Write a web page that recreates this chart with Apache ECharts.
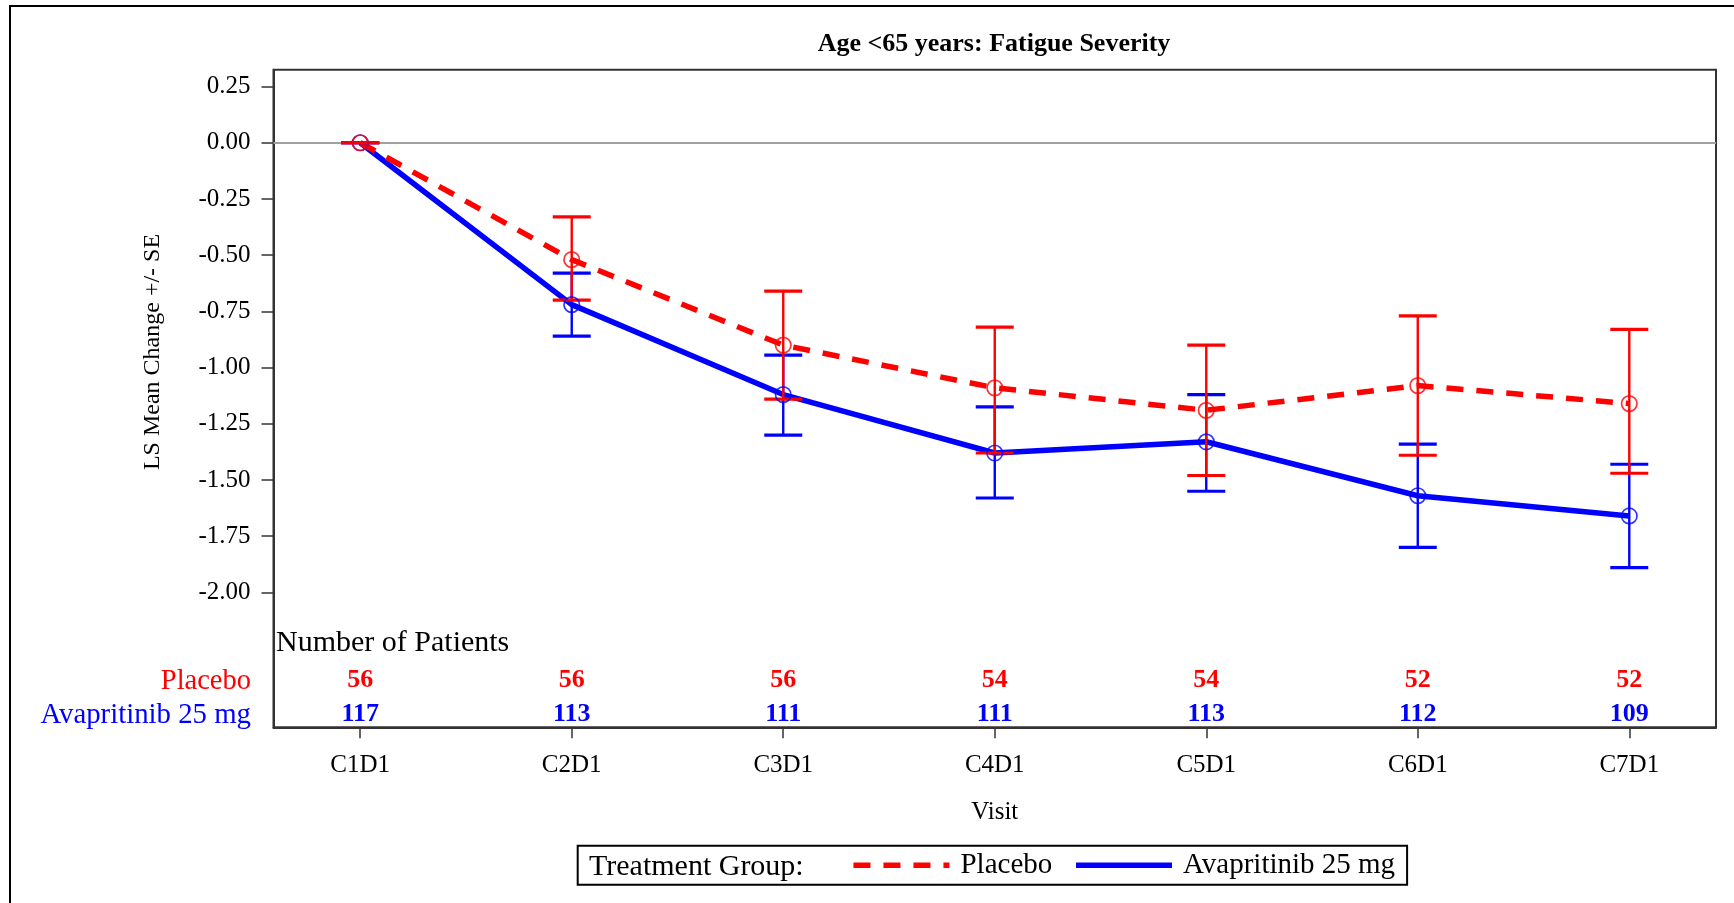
<!DOCTYPE html>
<html>
<head>
<meta charset="utf-8">
<script src="https://cdn.jsdelivr.net/npm/echarts@6/dist/echarts.min.js"></script>
<style>
html,body{margin:0;padding:0;background:#fff;}
#c{width:1734px;height:903px;}
</style>
</head>
<body>
<div id="c"></div>
<script>
// ---------------- data ----------------
const visits = ['C1D1', 'C2D1', 'C3D1', 'C4D1', 'C5D1', 'C6D1', 'C7D1'];
const yTickValues = [-2, -1.75, -1.5, -1.25, -1, -0.75, -0.5, -0.25, 0, 0.25];

const placeboMean  = [0, -0.52, -0.90, -1.09, -1.19, -1.08, -1.16];
const placeboUpper = [0, -0.33, -0.66, -0.82, -0.90, -0.77, -0.83];
const placeboLower = [0, -0.70, -1.14, -1.38, -1.48, -1.39, -1.47];

const avaMean  = [0, -0.72, -1.12, -1.38, -1.33, -1.57, -1.66];
const avaUpper = [0, -0.58, -0.945, -1.175, -1.12, -1.34, -1.43];
const avaLower = [0, -0.86, -1.30, -1.58, -1.55, -1.80, -1.89];

const placeboN = [56, 56, 56, 54, 54, 52, 52];
const avaN     = [117, 113, 111, 111, 113, 112, 109];

// ---------------- layout / style ----------------
const FONT = "'Liberation Serif', 'Times New Roman', serif";
const RED = '#ff0000';
const BLUE = '#0000ff';
const ROW_PLACEBO = -2.392;   // y level of the placebo count row (axis units)
const ROW_AVA = -2.541;       // y level of the avapritinib count row

const chart = echarts.init(document.getElementById('c'), null, {renderer: 'canvas'});

function errBars(name, color, lower, upper, z) {
  return {
    type: 'custom',
    name: name,
    z: z,
    silent: true,
    data: visits.map((v, i) => [i, lower[i], upper[i]]),
    encode: {x: 0, y: [1, 2]},
    renderItem: function (params, api) {
      const x = api.value(0);
      const lo = api.coord([x, api.value(1)]);
      const hi = api.coord([x, api.value(2)]);
      const hw = 19;
      return {
        type: 'group',
        children: [
          {type: 'line', shape: {x1: lo[0], y1: lo[1], x2: hi[0], y2: hi[1]}, style: {stroke: color, lineWidth: 2.4}},
          {type: 'line', shape: {x1: lo[0] - hw, y1: lo[1], x2: lo[0] + hw, y2: lo[1]}, style: {stroke: color, lineWidth: 3.2}},
          {type: 'line', shape: {x1: hi[0] - hw, y1: hi[1], x2: hi[0] + hw, y2: hi[1]}, style: {stroke: color, lineWidth: 3.2}}
        ]
      };
    }
  };
}

function countRow(name, color, rowY, counts) {
  return {
    type: 'custom',
    name: name,
    silent: true,
    z: 6,
    data: visits.map((v, i) => [i, rowY, counts[i]]),
    encode: {x: 0, y: 1},
    renderItem: function (params, api) {
      const p = api.coord([api.value(0), api.value(1)]);
      return {
        type: 'text',
        x: p[0],
        y: p[1],
        style: {
          text: String(api.value(2)),
          fill: color,
          font: 'bold 26px ' + FONT,
          align: 'center',
          verticalAlign: 'middle',
          textAlign: 'center',
          textVerticalAlign: 'middle'
        }
      };
    }
  };
}

function circles(name, color, means) {
  return {
    type: 'scatter',
    name: name,
    z: 7,
    silent: true,
    data: visits.map((v, i) => [i, means[i]]),
    symbol: 'circle',
    symbolSize: 15.5,
    itemStyle: {color: 'rgba(0,0,0,0)', borderColor: color, borderWidth: 1.7}
  };
}

const option = {
  backgroundColor: '#ffffff',
  animation: false,
  title: {
    text: 'Age <65 years: Fatigue Severity',
    left: 994,
    top: 31,
    textAlign: 'center',
    padding: 0,
    textStyle: {fontFamily: FONT, fontSize: 26, fontWeight: 'bold', color: '#000'}
  },
  grid: {
    left: 273.5, right: 18, top: 69.7, bottom: 175.7,
    show: true, borderColor: '#333', borderWidth: 2, backgroundColor: 'transparent'
  },
  legend: {
    data: ['Placebo', 'Avapritinib 25 mg'],
    left: 577.7,
    top: 845.7,
    orient: 'horizontal',
    padding: [3, 12, 3, 273],
    itemWidth: 96,
    itemHeight: 14,
    itemGap: 21,
    borderColor: '#000',
    borderWidth: 2,
    borderRadius: 0,
    backgroundColor: 'transparent',
    selectedMode: false,
    itemStyle: {opacity: 0},
    lineStyle: {width: 5.5},
    textStyle: {fontFamily: FONT, fontSize: 29, color: '#000', lineHeight: 29, padding: [4, 0, 0, 6]}
  },
  xAxis: {
    type: 'value',
    min: -0.41,
    max: 6.41,
    axisLine: {show: true, onZero: false, lineStyle: {color: '#333', width: 2}},
    axisTick: {show: true, customValues: visits.map((v, i) => i), length: 11, inside: false, lineStyle: {color: '#333', width: 1.5}},
    axisLabel: {customValues: visits.map((v, i) => i), formatter: v => visits[Math.round(v)], margin: 26,
      fontFamily: FONT, fontSize: 25, color: '#000'},
    splitLine: {show: false},
    name: 'Visit',
    nameLocation: 'middle',
    nameGap: 73,
    nameTextStyle: {fontFamily: FONT, fontSize: 25, color: '#000'}
  },
  yAxis: {
    type: 'value',
    min: -2.6,
    max: 0.325,
    axisLine: {show: true, onZero: false, lineStyle: {color: '#333', width: 2}},
    axisTick: {show: true, customValues: yTickValues, length: 12, inside: false, lineStyle: {color: '#333', width: 1.5}},
    axisLabel: {customValues: yTickValues, formatter: v => v.toFixed(2), margin: 23,
      fontFamily: FONT, fontSize: 25, color: '#000'},
    splitLine: {show: false}
  },
  graphic: [
    {type: 'rect', z: -10, shape: {x: 10, y: 6, width: 1800, height: 960}, style: {fill: 'none', stroke: '#000', lineWidth: 2}},
    {type: 'text', x: 152.6, y: 352, rotation: Math.PI / 2,
      style: {text: 'LS Mean Change +/- SE', font: '24px ' + FONT, fill: '#000', align: 'center', verticalAlign: 'middle', textAlign: 'center', textVerticalAlign: 'middle'}},
    {type: 'text', x: 276, y: 643,
      style: {text: 'Number of Patients', font: '30px ' + FONT, fill: '#000', align: 'left', verticalAlign: 'middle', textAlign: 'left', textVerticalAlign: 'middle'}},
    {type: 'text', x: 251, y: 682,
      style: {text: 'Placebo', font: '28.5px ' + FONT, fill: RED, align: 'right', verticalAlign: 'middle', textAlign: 'right', textVerticalAlign: 'middle'}},
    {type: 'text', x: 251, y: 715,
      style: {text: 'Avapritinib 25 mg', font: '28.8px ' + FONT, fill: BLUE, align: 'right', verticalAlign: 'middle', textAlign: 'right', textVerticalAlign: 'middle'}},
    {type: 'text', x: 589, y: 867,
      style: {text: 'Treatment Group:', font: '30px ' + FONT, fill: '#000', align: 'left', verticalAlign: 'middle', textAlign: 'left', textVerticalAlign: 'middle'}}
  ],
  series: [
    {
      type: 'line', name: 'zero', data: [], z: 1, silent: true,
      markLine: {silent: true, symbol: 'none', label: {show: false},
        lineStyle: {color: '#a0a0a0', width: 2, type: 'solid'}, data: [{yAxis: 0}]}
    },
    {
      type: 'line', name: 'Avapritinib 25 mg', z: 3,
      data: visits.map((v, i) => [i, avaMean[i]]),
      symbol: 'none', showSymbol: false,
      lineStyle: {color: BLUE, width: 5.5, type: 'solid'},
      itemStyle: {color: BLUE}
    },
    {
      type: 'line', name: 'Placebo', z: 4,
      data: visits.map((v, i) => [i, placeboMean[i]]),
      symbol: 'none', showSymbol: false,
      lineStyle: {color: RED, width: 5.5, type: [17, 13]},
      itemStyle: {color: RED}
    },
    errBars('Avapritinib SE', BLUE, avaLower, avaUpper, 5),
    errBars('Placebo SE', RED, placeboLower, placeboUpper, 5),
    circles('Avapritinib LS mean', BLUE, avaMean),
    circles('Placebo LS mean', RED, placeboMean),
    countRow('Placebo N', RED, ROW_PLACEBO, placeboN),
    countRow('Avapritinib N', BLUE, ROW_AVA, avaN)
  ]
};

chart.setOption(option);
</script>
</body>
</html>
